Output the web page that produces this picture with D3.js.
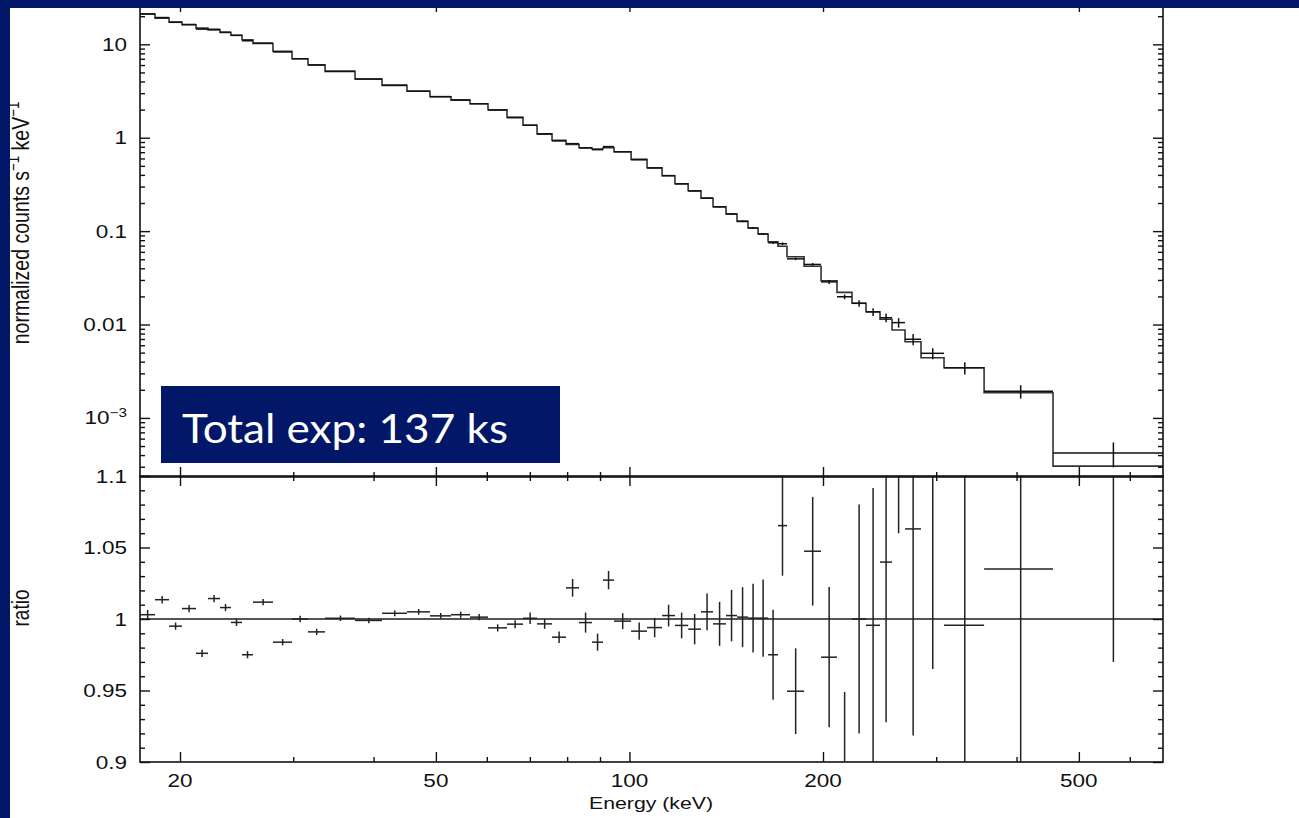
<!DOCTYPE html>
<html><head><meta charset="utf-8">
<script src="https://cdn.jsdelivr.net/npm/d3@7"></script>
<style>html,body{margin:0;padding:0;background:#fff;overflow:hidden}svg{display:block}</style>
</head><body><svg id="chart" width="1299" height="818"></svg>
<script>
// ---------- data ----------
const binEdgesKeV = [17.33,18.29,19.23,20.14,21.18,22.11,23.08,24.00,24.97,25.97,27.90,29.87,31.63,33.62,37.43,41.23,45.08,48.95,52.79,56.50,60.26,64.51,68.31,71.83,75.79,79.68,83.48,87.45,90.97,94.62,100.6,106.5,112.4,117.7,123.4,129.2,134.9,141.3,147.0,152.9,158.5,164.3,170.2,175.8,186.9,198.6,210.3,221.9,233.3,245.3,256.1,268.3,284.1,308.5,356.1,455.8,675.8];
const modelCounts = [21.1,19.1,17.3,16.2,14.9,14.3,13.4,12.5,11.2,10.2,
  8.42,7.01,6.05,5.14,4.25,3.64,3.14,2.75,2.53,2.31,
  1.99,1.65,1.36,1.10,0.938,0.846,0.780,0.757,0.782,0.708,
  0.587,0.477,0.392,0.322,0.271,0.2245,0.1825,0.1524,0.1273,0.1079,
  0.0931,0.0770,0.0688,0.0532,0.0420,0.0294,0.0221,0.01687,0.01371,0.01137,
  0.00873,0.00654,0.00441,0.00345,0.00186,0.000305];
const ratioValues = [1.003,1.0135,0.995,1.0073,0.976,1.0143,1.008,0.9976,0.975,1.0118,
  0.9838,1.0,0.991,1.0005,0.999,1.004,1.005,1.0022,1.003,1.0013,
  0.9938,0.9964,1.0005,0.9966,0.9873,1.0218,0.9975,0.9838,1.0272,0.9985,
  0.9915,0.994,1.0024,0.9955,0.9929,1.005,0.9966,1.0024,1.0013,1.0006,
  1.0006,0.975,1.0653,0.9495,1.0474,0.9733,0.897,1.0,0.9956,1.0398,
  1.20,1.063,1.115,0.9956,1.035,1.38];
const ratioErrors = [0.0033,0.0026,0.0025,0.0025,0.0025,0.0025,0.0025,0.0025,0.0025,0.0022,
  0.0022,0.0023,0.0022,0.0019,0.0019,0.002,0.002,0.002,0.0022,0.0022,
  0.0025,0.0028,0.004,0.0035,0.004,0.0062,0.007,0.006,0.0064,0.0056,
  0.006,0.0068,0.0076,0.009,0.0106,0.0128,0.0154,0.018,0.021,0.024,
  0.027,0.0315,0.035,0.03,0.038,0.049,0.052,0.08,0.096,0.112,
  0.14,0.1445,0.15,0.15,0.17,0.41];
const xTickMajor = [20,50,100,200,500];
const xTickLabels = ["20","50","100","200","500"];
const yTicksUpper = [10,1,0.1,0.01,0.001];
const yTickLabelsUpper = [["10"],["1"],["0.1"],["0.01"],["10","\u22123"]];
const yTicksLower = [0.9,0.95,1,1.05,1.1];
const yTickLabelsLower = ["0.9","0.95","1","1.05","1.1"];
const xTitle = "Energy (keV)";
const yTitleUpper = ["normalized counts s","\u22121"," keV","\u22121"];
const yTitleLower = "ratio";
const boxText = "Total exp: 137 ks";

// ---------- layout ----------
const navy = "#021767";
const L = 140, R = 1163, T1 = 2, B1 = 477, T2 = 476, B2 = 762;
const FONT = "'Liberation Sans', Arial, Helvetica, sans-serif";
const FS = 18, SX = 1.25;

const svg = d3.select("#chart");
svg.append("rect").attr("width",1299).attr("height",818).attr("fill","#fff");

const x = d3.scaleLog().domain([17.33, 675.8]).range([L, R]);
const yU = d3.scaleLog().domain([2.33e-4, 28.4]).range([B1, T1]);
const yL = d3.scaleLinear().domain([0.9, 1.1]).range([B2, T2]);

const bins = modelCounts.map((m,i)=>({
  lo: binEdgesKeV[i], hi: binEdgesKeV[i+1], mid: (binEdgesKeV[i]+binEdgesKeV[i+1])/2,
  model: m, ratio: ratioValues[i], err: ratioErrors[i]
}));

const defs = svg.append("defs");
defs.append("clipPath").attr("id","clipU").append("rect").attr("x",L).attr("y",T1).attr("width",R-L).attr("height",B1-T1);
defs.append("clipPath").attr("id","clipL").append("rect").attr("x",L).attr("y",T2).attr("width",R-L).attr("height",B2-T2);

// ---------- upper panel ----------
const gU = svg.append("g").attr("clip-path","url(#clipU)");
const stepPts = bins.map(b=>[b.lo,b.model]).concat([[bins[bins.length-1].hi, bins[bins.length-1].model]]);
gU.append("path")
  .attr("d", d3.line().x(d=>x(d[0])).y(d=>yU(d[1])).curve(d3.curveStepAfter)(stepPts))
  .attr("fill","none").attr("stroke","#333").attr("stroke-width",1.6);
const crossU = gU.append("g").attr("stroke","#111").attr("stroke-width",1.5);
bins.forEach(b=>{
  const d = b.model*b.ratio;
  crossU.append("line").attr("x1",x(b.lo)).attr("x2",x(b.hi)).attr("y1",yU(d)).attr("y2",yU(d));
  crossU.append("line").attr("x1",x(b.mid)).attr("x2",x(b.mid))
    .attr("y1",yU(b.model*(b.ratio+b.err))).attr("y2",yU(Math.max(b.model*(b.ratio-b.err),1e-6)));
});

// ---------- lower panel ----------
const gL = svg.append("g").attr("clip-path","url(#clipL)");
gL.append("line").attr("x1",L).attr("x2",R).attr("y1",yL(1)).attr("y2",yL(1))
  .attr("stroke","#555").attr("stroke-width",2);
const crossL = gL.append("g").attr("stroke","#222").attr("stroke-width",1.5);
bins.forEach(b=>{
  crossL.append("line").attr("x1",x(b.lo)).attr("x2",x(b.hi)).attr("y1",yL(b.ratio)).attr("y2",yL(b.ratio));
  crossL.append("line").attr("x1",x(b.mid)).attr("x2",x(b.mid))
    .attr("y1",yL(b.ratio+b.err)).attr("y2",yL(b.ratio-b.err));
});

// ---------- axes (inward ticks) ----------
function tickAxis(axisFn, scale, vals, size, tx, ty){
  const a = axisFn(scale).tickValues(vals).tickSize(size).tickFormat("");
  const g = svg.append("g").attr("transform",`translate(${tx},${ty})`).call(a);
  g.select(".domain").remove();
  g.selectAll("line").attr("stroke","#111").attr("stroke-width",1.4);
}
const xAll = x.ticks().filter(v=>v>=x.domain()[0]&&v<=x.domain()[1]);
const xMinor = xAll.filter(v=>!xTickMajor.includes(v));
[[B1,-1],[T1,1],[B2,-1],[T2,1]].forEach(([yy,dir])=>{
  const fn = dir<0 ? d3.axisBottom : d3.axisTop;
  tickAxis(fn, x, xTickMajor, -10, 0, yy);
  tickAxis(fn, x, xMinor, -5, 0, yy);
});
const yUAll = yU.ticks().filter(v=>v>=yU.domain()[0]&&v<=yU.domain()[1]);
const yUMinor = yUAll.filter(v=>!yTicksUpper.some(t=>Math.abs(t-v)/t<1e-6));
tickAxis(d3.axisLeft, yU, yTicksUpper, -10, L, 0);
tickAxis(d3.axisLeft, yU, yUMinor, -5, L, 0);
tickAxis(d3.axisRight, yU, yTicksUpper, -10, R, 0);
tickAxis(d3.axisRight, yU, yUMinor, -5, R, 0);
const yLAll = d3.range(0,21).map(i=>+(0.9+i*0.01).toFixed(2));
const yLMinor = yLAll.filter(v=>!yTicksLower.some(t=>Math.abs(t-v)<1e-6));
tickAxis(d3.axisLeft, yL, yTicksLower, -10, L, 0);
tickAxis(d3.axisLeft, yL, yLMinor, -5, L, 0);
tickAxis(d3.axisRight, yL, yTicksLower, -10, R, 0);
tickAxis(d3.axisRight, yL, yLMinor, -5, R, 0);

// frames
svg.append("rect").attr("x",L).attr("y",T1).attr("width",R-L).attr("height",B1-T1)
  .attr("fill","none").attr("stroke","#111").attr("stroke-width",1.6);
svg.append("rect").attr("x",L).attr("y",T2).attr("width",R-L).attr("height",B2-T2)
  .attr("fill","none").attr("stroke","#111").attr("stroke-width",1.6);

// ---------- labels ----------
function stretchedText(px, py, anchor, parts, rotate, fs){
  fs = fs || FS;
  const g = svg.append("g").attr("transform",`translate(${px},${py}) scale(${SX},1)` + (rotate?" rotate(-90)":""));
  const t = g.append("text").attr("text-anchor",anchor).attr("font-family",FONT)
    .attr("font-size",fs).attr("fill","#111");
  parts.forEach((p,i)=>{
    const sup = i%2===1;
    t.append("tspan").text(p).attr("font-size", sup?fs*0.68:fs)
      .attr("dy", sup ? -fs*0.4 : (i>0 ? fs*0.4 : 0));
  });
  return t;
}
yTicksUpper.forEach((v,i)=>stretchedText(127, yU(v)+6.5, "end", yTickLabelsUpper[i]));
yTicksLower.forEach((v,i)=>stretchedText(127, yL(v)+6.5, "end", [yTickLabelsLower[i]]));
xTickMajor.forEach((v,i)=>stretchedText(x(v), 787, "middle", [xTickLabels[i]]));
stretchedText(651, 809, "middle", [xTitle], false, 17);
stretchedText(29, 223, "middle", yTitleUpper, true, 19.5);
stretchedText(29, 608, "middle", [yTitleLower], true, 19);

// ---------- slide overlay ----------
svg.append("rect").attr("x",161).attr("y",386).attr("width",399).attr("height",77).attr("fill",navy);
svg.append("text").attr("x",182).attr("y",443).attr("font-family","Lato, 'Open Sans', sans-serif")
  .attr("font-size",41).attr("fill","#fff").attr("textLength",326).attr("lengthAdjust","spacingAndGlyphs")
  .text(boxText);
svg.append("rect").attr("x",0).attr("y",0).attr("width",1299).attr("height",8).attr("fill",navy);
svg.append("rect").attr("x",0).attr("y",0).attr("width",10).attr("height",818).attr("fill",navy);
</script></body></html>
